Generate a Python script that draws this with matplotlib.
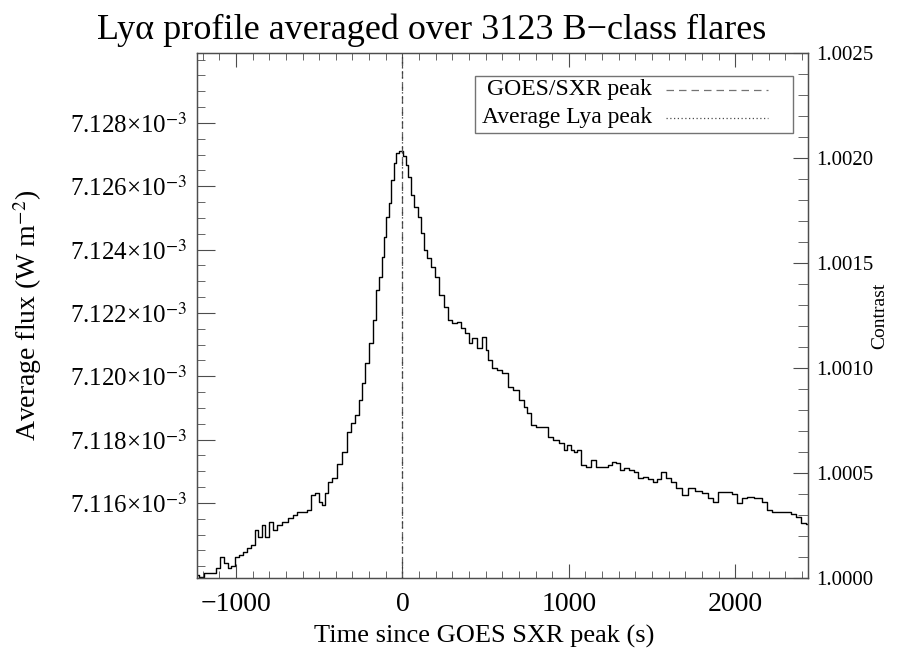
import matplotlib
matplotlib.use('Agg')
import matplotlib.pyplot as plt
from matplotlib.ticker import FixedLocator, MultipleLocator

plt.rcParams['font.family'] = ['Liberation Serif', 'DejaVu Serif']
plt.rcParams['mathtext.fontset'] = 'stix'

# Lya flux averaged over the flares, time relative to GOES SXR peak
time_s = [-1234, -1205, -1175, -1136, -1106, -1090, -1056, -1036, -1018, -996,
          -966, -946, -926, -896, -876, -856, -837, -816, -790, -766,
          -737, -707, -666, -647, -617, -587, -557, -537, -517, -487,
          -477, -457, -437, -407, -377, -347, -317, -298, -277, -247,
          -238, -217, -187, -168, -148, -128, -118, -108, -88, -78,
          -58, -48, -28, -8, 12, 26, 42, 62, 82, 102,
          122, 132, 162, 181, 211, 232, 262, 281, 311, 341,
          361, 391, 411, 431, 461, 491, 511, 521, 551, 581,
          621, 651, 681, 720, 741, 760, 790, 820, 860, 890,
          920, 960, 980, 1000, 1020, 1040, 1060, 1090, 1120, 1150,
          1180, 1220, 1250, 1269, 1299, 1319, 1349, 1379, 1399, 1429,
          1459, 1489, 1519, 1539, 1569, 1599, 1629, 1659, 1699, 1737,
          1778, 1819, 1856, 1878, 1918, 1958, 1998, 2028, 2058, 2088,
          2138, 2178, 2208, 2238, 2277, 2317, 2347, 2377, 2417, 2435]
flux_e3 = [7.11373, 7.11367, 7.11378, 7.11378, 7.11394, 7.11429, 7.11410, 7.11394, 7.11401, 7.11430,
           7.11436, 7.11446, 7.11457, 7.11467, 7.11515, 7.11494, 7.11531, 7.11494, 7.11541, 7.11515,
           7.11531, 7.11541, 7.11552, 7.11562, 7.11573, 7.11573, 7.11578, 7.11625, 7.11631, 7.11604,
           7.11594, 7.11631, 7.11667, 7.11678, 7.11723, 7.11762, 7.11825, 7.11852, 7.11878, 7.11925,
           7.11978, 7.12041, 7.12104, 7.12178, 7.12273, 7.12315, 7.12378, 7.12441, 7.12504, 7.12546,
           7.12620, 7.12673, 7.12704, 7.12713, 7.12696, 7.12667, 7.12630, 7.12573, 7.12535, 7.12503,
           7.12453, 7.12399, 7.12374, 7.12346, 7.12315, 7.12257, 7.12220, 7.12178, 7.12167, 7.12173,
           7.12152, 7.12136, 7.12104, 7.12120, 7.12089, 7.12125, 7.12083, 7.12052, 7.12025, 7.12020,
           7.12010, 7.11967, 7.11957, 7.11925, 7.11904, 7.11884, 7.11846, 7.11841, 7.11841, 7.11809,
           7.11799, 7.11789, 7.11767, 7.11783, 7.11767, 7.11762, 7.11767, 7.11720, 7.11715, 7.11736,
           7.11715, 7.11715, 7.11720, 7.11730, 7.11725, 7.11704, 7.11711, 7.11704, 7.11699, 7.11678,
           7.11681, 7.11676, 7.11667, 7.11676, 7.11698, 7.11679, 7.11666, 7.11647, 7.11625, 7.11647,
           7.11638, 7.11632, 7.11616, 7.11603, 7.11635, 7.11636, 7.11628, 7.11600, 7.11616, 7.11619,
           7.11615, 7.11603, 7.11578, 7.11572, 7.11572, 7.11570, 7.11565, 7.11557, 7.11537, 7.11535]
flux = [f * 1e-3 for f in flux_e3]

goes_peak_t = 0
lya_peak_t = 0

x_range = (-1234, 2437)
flux_range = (7.11363e-3, 7.13021e-3)
contrast_range = (1.0, 1.0025)

flux_ticks = [7.116e-3, 7.118e-3, 7.120e-3, 7.122e-3, 7.124e-3, 7.126e-3, 7.128e-3]
flux_labels = ['7.116×10$^{-3}$', '7.118×10$^{-3}$', '7.120×10$^{-3}$', '7.122×10$^{-3}$',
               '7.124×10$^{-3}$', '7.126×10$^{-3}$', '7.128×10$^{-3}$']
contrast_ticks = [1.0, 1.0005, 1.0010, 1.0015, 1.0020, 1.0025]
contrast_labels = ['1.0000', '1.0005', '1.0010', '1.0015', '1.0020', '1.0025']
time_ticks = [-1000, 0, 1000, 2000]

axis_col = '0.3'

fig = plt.figure(figsize=(9.03, 6.64), dpi=100)
ax = fig.add_axes([0.2182, 0.1295, 0.6766, 0.7907])

ax.plot(time_s, flux, color='black', lw=1.0, drawstyle='steps-mid')
ax.axvline(goes_peak_t, color='0.35', lw=0.9, ls=(0, (6, 4)))
ax.axvline(lya_peak_t, color='0.2', lw=0.9, ls=(0, (1, 3)))

ax.set_xlim(*x_range)
ax.set_ylim(*flux_range)

ax.xaxis.set_major_locator(FixedLocator(time_ticks))
ax.xaxis.set_minor_locator(MultipleLocator(100))
ax.yaxis.set_major_locator(FixedLocator(flux_ticks))
ax.set_yticklabels(flux_labels)
ax.yaxis.set_minor_locator(MultipleLocator(0.5e-6))

ax.tick_params(axis='x', which='both', direction='in', top=True, bottom=True,
               labelsize=20, pad=10, color=axis_col)
ax.tick_params(axis='x', which='major', length=10)
ax.tick_params(axis='x', which='minor', length=5)
ax.tick_params(axis='y', which='both', direction='in', left=True, right=False,
               labelsize=18, pad=7, color=axis_col)
ax.tick_params(axis='y', which='major', length=13)
ax.tick_params(axis='y', which='minor', length=6)
for sp in ax.spines.values():
    sp.set_color(axis_col)
    sp.set_linewidth(1.0)

ax.set_xlabel('Time since GOES SXR peak (s)', fontsize=19, va='top')
ax.xaxis.set_label_coords(0.47, -0.09)
ax.set_ylabel('Average flux (W m$^{-2}$)', fontsize=20, va='center')
ax.yaxis.set_label_coords(-0.277, 0.5)

# contrast scale on the right
ax2 = ax.twinx()
ax2.set_ylim(*contrast_range)
ax2.yaxis.set_major_locator(FixedLocator(contrast_ticks))
ax2.set_yticklabels(contrast_labels)
ax2.yaxis.set_minor_locator(MultipleLocator(0.0001))
ax2.tick_params(axis='y', which='both', direction='in', labelsize=15, pad=6, color=axis_col)
ax2.tick_params(axis='y', which='major', length=11)
ax2.tick_params(axis='y', which='minor', length=7)
for sp in ax2.spines.values():
    sp.set_color(axis_col)
ax2.set_ylabel('Contrast', fontsize=14, va='center')
ax2.yaxis.set_label_coords(1.118, 0.5)

# legend box
box = plt.Rectangle((0.455, 0.847), 0.521, 0.11, transform=ax.transAxes,
                    fill=False, edgecolor='0.45', lw=1.0)
ax.add_patch(box)
ax.text(0.745, 0.93, 'GOES/SXR peak', transform=ax.transAxes, ha='right', va='center', fontsize=17)
ax.text(0.745, 0.877, 'Average Lya peak', transform=ax.transAxes, ha='right', va='center', fontsize=17)
ax.plot([0.767, 0.935], [0.93, 0.93], transform=ax.transAxes, color='0.45', lw=0.9, ls=(0, (6, 4)))
ax.plot([0.767, 0.935], [0.877, 0.877], transform=ax.transAxes, color='0.3', lw=0.9, ls=(0, (1, 2)))

fig.text(0.478, 0.955, 'Lyα profile averaged over 3123 B−class flares', ha='center', va='center', fontsize=26)

fig.savefig('out.png', dpi=100)
